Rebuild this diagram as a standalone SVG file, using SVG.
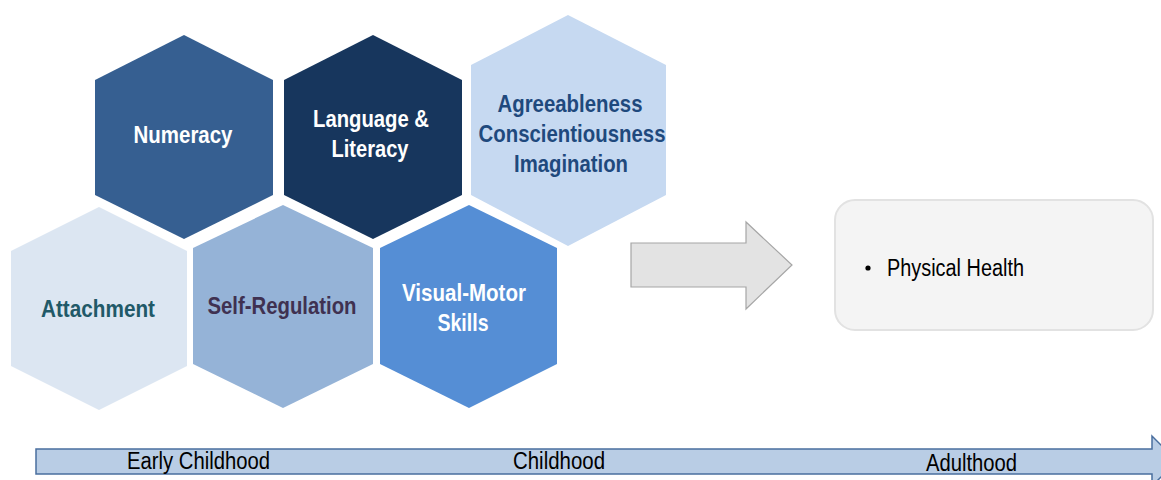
<svg xmlns="http://www.w3.org/2000/svg" width="1161" height="480" viewBox="0 0 1161 480">
<style>
.lbl{font-family:"Liberation Sans",Arial,sans-serif;font-weight:bold;font-size:24px;text-anchor:middle}
.reg{font-family:"Liberation Sans",Arial,sans-serif;font-size:23px}
.w{fill:#ffffff}
</style>
<rect width="1161" height="480" fill="#ffffff"/>
<g id="numeracy">
<polygon points="184,35 273,80 273,195 184,239 95,195 95,80" fill="#365f91"/>
<text class="lbl w" x="183" y="143" textLength="99" lengthAdjust="spacingAndGlyphs">Numeracy</text>
</g>
<g id="language">
<polygon points="373,35 462,80 462,195 373,239 284,195 284,80" fill="#17365d"/>
<text class="lbl w" x="371" y="127" textLength="116" lengthAdjust="spacingAndGlyphs">Language &amp;</text>
<text class="lbl w" x="370" y="157" textLength="77" lengthAdjust="spacingAndGlyphs">Literacy</text>
</g>
<g id="traits">
<polygon points="568,15 666,65 666,195 568,246 471,195 471,65" fill="#c6d9f1"/>
<text class="lbl" fill="#1f497d" x="570" y="112" textLength="145" lengthAdjust="spacingAndGlyphs">Agreeableness</text>
<text class="lbl" fill="#1f497d" x="572" y="142" textLength="187" lengthAdjust="spacingAndGlyphs">Conscientiousness</text>
<text class="lbl" fill="#1f497d" x="571" y="172" textLength="114" lengthAdjust="spacingAndGlyphs">Imagination</text>
</g>
<g id="attachment">
<polygon points="99,207 187,251 187,366 99,410 11,366 11,251" fill="#dce6f2"/>
<text class="lbl" fill="#215968" x="98" y="317" textLength="114" lengthAdjust="spacingAndGlyphs">Attachment</text>
</g>
<g id="selfregulation">
<polygon points="283,205 373,248 373,364 283,408 193,364 193,248" fill="#95b3d7"/>
<text class="lbl" fill="#3f3151" x="282" y="314" textLength="149" lengthAdjust="spacingAndGlyphs">Self-Regulation</text>
</g>
<g id="visualmotor">
<polygon points="469,205 557,248 557,364 469,408 380,364 380,248" fill="#558ed5"/>
<text class="lbl w" x="464" y="301" textLength="124" lengthAdjust="spacingAndGlyphs">Visual-Motor</text>
<text class="lbl w" x="463" y="331" textLength="51" lengthAdjust="spacingAndGlyphs">Skills</text>
</g>
<g id="connectors">
<polygon points="631,243 746,243 746,222 792,265 746,309 746,287 631,287" fill="#e3e3e3" stroke="#a6a6a6" stroke-width="1.2"/>
</g>
<g id="outcome">
<rect x="835" y="200" width="318" height="130" rx="20" ry="20" fill="#f4f4f4" stroke="#e2e2e2" stroke-width="2"/>
<circle cx="868" cy="268" r="2.6" fill="#000000"/>
<text class="reg" fill="#000000" x="887" y="276" textLength="137" lengthAdjust="spacingAndGlyphs">Physical Health</text>
</g>
<g id="timeline">
<polygon points="36,449 1152,449 1152,436 1177,461 1152,486 1152,474 36,474" fill="#b9cde5" stroke="#4a6f9f" stroke-width="1.5"/>
<text class="reg" fill="#000000" x="127" y="469" textLength="143" lengthAdjust="spacingAndGlyphs">Early Childhood</text>
<text class="reg" fill="#000000" x="513" y="469" textLength="92" lengthAdjust="spacingAndGlyphs">Childhood</text>
<text class="reg" fill="#000000" x="926" y="471" textLength="91" lengthAdjust="spacingAndGlyphs">Adulthood</text>
</g>
</svg>
